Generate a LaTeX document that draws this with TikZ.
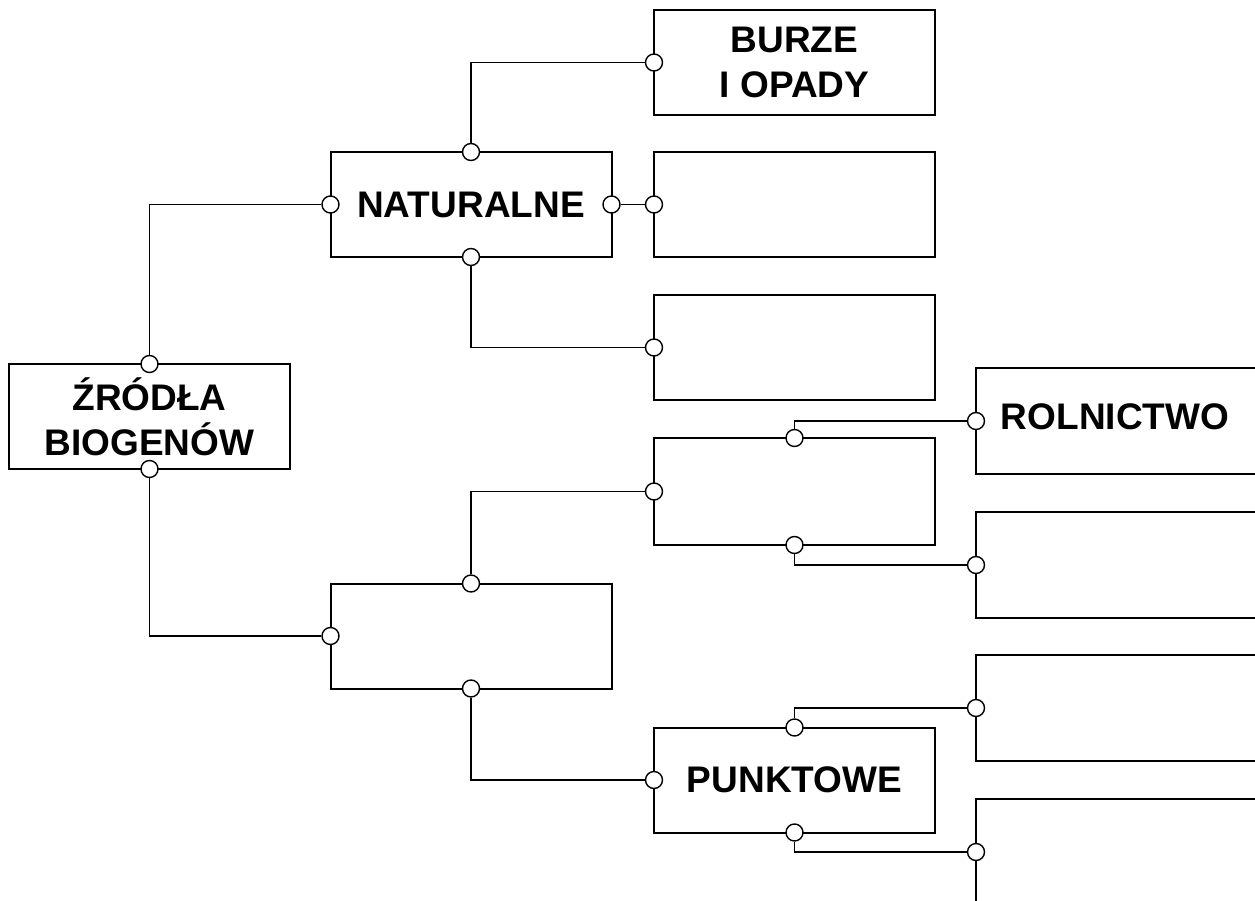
\documentclass[tikz,border=0pt]{standalone}
\usepackage{fontspec}
\setmainfont{Liberation Sans}
\begin{document}
\begin{tikzpicture}[x=1pt,y=-1pt,
  box/.style={draw, line width=2pt, minimum width=281pt, minimum height=105pt,
    inner sep=0pt, outer sep=0pt, align=center,
    font=\fontsize{37}{45}\selectfont\bfseries},
  port/.style={circle, draw, fill=white, line width=1.4pt, minimum size=17pt, inner sep=0pt},
  link/.style={line width=1.4pt},
  lbl/.style={font=\fontsize{37}{45}\selectfont\bfseries, inner sep=0pt}]
\useasboundingbox (0,0) rectangle (1255,901);
\clip (0,0) rectangle (1255,901);

% main boxes
\node[box] (zr) at (149.5,416.5) {ŹRÓDŁA\\BIOGENÓW};
\node[box] (nat) at (471,204.5) {NATURALNE};
\node[box] (mid) at (471,636) {};

% second level
\node[box] (burze) at (794.5,62.5) {BURZE\\I OPADY};
\node[box] (e2) at (794.5,204.5) {};
\node[box] (e3) at (794.5,347.5) {};
\node[box, minimum height=107pt] (e5) at (794.5,491.5) {};
\node[box] (punkt) at (794.5,780) {PUNKTOWE};

% third level (running past the right edge)
\node[box, minimum width=300pt, minimum height=106pt] (rol) at (1126,421) {};
\node[lbl] (roltxt) at (1115,417) {ROLNICTWO};
\node[box, minimum width=300pt, minimum height=106pt] (r2) at (1126,565) {};
\node[box, minimum width=300pt, minimum height=106pt] (r3) at (1126,708) {};
\node[box, minimum width=300pt, minimum height=106pt] (r4) at (1126,852) {};

% connection points
\node[port] (zr-t) at (zr.north) {};
\node[port] (zr-b) at (zr.south) {};
\node[port] (nat-t) at (nat.north) {};
\node[port] (nat-l) at (nat.west) {};
\node[port] (nat-r) at (nat.east) {};
\node[port] (nat-b) at (nat.south) {};
\node[port] (mid-t) at (mid.north) {};
\node[port] (mid-l) at (mid.west) {};
\node[port] (mid-b) at (mid.south) {};
\node[port] (burze-l) at (burze.west) {};
\node[port] (e2-l) at (e2.west) {};
\node[port] (e3-l) at (e3.west) {};
\node[port] (e5-l) at (e5.west) {};
\node[port] (e5-t) at (e5.north) {};
\node[port] (e5-b) at (e5.south) {};
\node[port] (punkt-l) at (punkt.west) {};
\node[port] (punkt-t) at (punkt.north) {};
\node[port] (punkt-b) at (punkt.south) {};
\node[port] (rol-l) at (rol.west) {};
\node[port] (r2-l) at (r2.west) {};
\node[port] (r3-l) at (r3.west) {};
\node[port] (r4-l) at (r4.west) {};

% connectors
\draw[link] (zr-t) |- (nat-l);
\draw[link] (zr-b) |- (mid-l);
\draw[link] (nat-t) |- (burze-l);
\draw[link] (nat-r) -- (e2-l);
\draw[link] (nat-b) |- (e3-l);
\draw[link] (mid-t) |- (e5-l);
\draw[link] (mid-b) |- (punkt-l);
\draw[link] (e5-t) |- (rol-l);
\draw[link] (e5-b) |- (r2-l);
\draw[link] (punkt-t) |- (r3-l);
\draw[link] (punkt-b) |- (r4-l);
\end{tikzpicture}
\end{document}
